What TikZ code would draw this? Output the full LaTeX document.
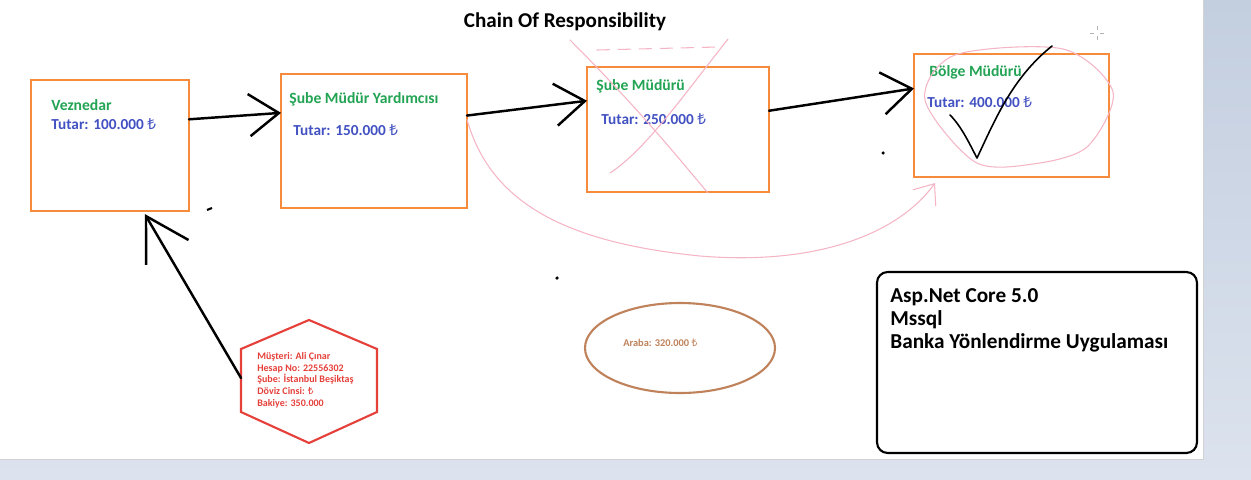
\documentclass[tikz,border=0pt]{standalone}
\usepackage{fontspec}
\setmainfont{Carlito}
\newfontfamily\lirafont{Noto Sans}
\usetikzlibrary{arrows.meta,calc}
\definecolor{boxorange}{HTML}{F58B3B}
\definecolor{ttlgreen}{HTML}{23A454}
\definecolor{amtblue}{HTML}{4352C2}
\definecolor{hexred}{HTML}{E5403A}
\definecolor{carbrown}{HTML}{C0825A}
\definecolor{penpink}{HTML}{F5B5C5}
\definecolor{frametop}{HTML}{C3CEDF}
\definecolor{framebot}{HTML}{DCE3EE}
\newcommand{\TL}{{\lirafont\bfseries ₺}}

\begin{document}
\begin{tikzpicture}[x=0.02cm, y=-0.02cm,
 box/.style={draw=boxorange, line width=1.4pt, inner sep=0, outer sep=0},
 ttl/.style={font=\fontsize{8.9}{10}\selectfont\bfseries, text=ttlgreen, anchor=base west, inner sep=0},
 amt/.style={font=\fontsize{8.7}{10}\selectfont\bfseries, text=amtblue, anchor=base west, inner sep=0},
 info/.style={font=\fontsize{12.1}{14}\selectfont\bfseries, anchor=base west, inner sep=0},
 hand/.style={line width=1.4pt, line cap=round, -{Straight Barb[length=17pt,width=24pt]}},
 pen/.style={penpink, line width=0.6pt, line cap=round},
]
 \useasboundingbox (0,0) rectangle (1251,480);
 % window frame and white canvas
 \fill[top color=frametop, bottom color=framebot] (0,0) rectangle (1251,480);
 \fill[white] (0,0) rectangle (1203,459);
 \draw[gray!35, line width=0.3pt] (1203,0) -- (1203,459) -- (0,459);
 \node[font=\fontsize{12}{14}\selectfont\bfseries, anchor=base, inner sep=0] (title) at (565,28) {Chain Of Responsibility};
 % handlers
 \node[box, minimum width=3.16cm, minimum height=2.62cm] (b1) at (110,145.5) {};
 \node[box, minimum width=3.72cm, minimum height=2.68cm] (b2) at (374,141) {};
 \node[box, minimum width=3.64cm, minimum height=2.50cm] (b3) at (678,129.5) {};
 \node[box, minimum width=3.90cm, minimum height=2.46cm] (b4) at (1011.5,115.5) {};
 \node[ttl] (b1t) at (51,110) {Veznedar};
 \node[amt] (b1a) at (51,129) {Tutar: 100.000 \TL};
 \node[ttl] (b2t) at (289,103) {Şube Müdür Yardımcısı};
 \node[amt] (b2a) at (293,135) {Tutar: 150.000 \TL};
 \node[ttl] (b3t) at (596,90) {Şube Müdürü};
 \node[amt] (b3a) at (601,124) {Tutar: 250.000 \TL};
 \node[ttl] (b4t) at (929,76) {Bölge Müdürü};
 \node[amt] (b4a) at (927,107) {Tutar: 400.000 \TL};
 % chain arrows
 \draw[hand] ($(b1.north east)!0.30!(b1.south east)$) -- ($(b2.north west)!0.29!(b2.south west)$);
 \draw[hand] ($(b2.north east)!0.31!(b2.south east)$) -- ($(b3.north west)!0.27!(b3.south west)$);
 \draw[hand] ($(b3.north east)!0.35!(b3.south east)$) -- ($(b4.north west)!0.28!(b4.south west)$);
 % customer
 \draw[hexred, line width=1.2pt, line join=miter] (309,320) -- (377,349) -- (377,412) -- (309,443) -- (241,412) -- (241,349) -- cycle;
 \coordinate (hexw) at (241,378);
 \node[font=\fontsize{5.7}{6.7}\selectfont\bfseries, text=hexred, align=left, anchor=north west, inner sep=0] (cust) at (257,352)
   {Müşteri: Ali Çınar\\Hesap No: 22556302\\Şube: İstanbul Beşiktaş\\Döviz Cinsi: \TL\\Bakiye: 350.000};
 \draw[hand, -{Straight Barb[length=24pt,width=28pt]}] (hexw) -- ($(b1.south west)!0.72!(b1.south east)+(0,3)$);
 % car
 \draw[carbrown, line width=1.2pt] (680,348) ellipse [x radius=95, y radius=45];
 \node[font=\fontsize{5.9}{7}\selectfont\bfseries, text=carbrown, anchor=base west, inner sep=0] (car) at (623,346) {Araba: 320.000 \TL};
 % project info
 \node[draw, line width=1.2pt, rounded corners=6pt, minimum width=6.4cm, minimum height=3.62cm] (infobox) at (1037,362.5) {};
 \node[info] (i1) at (890,302) {Asp.Net Core 5.0};
 \node[info] (i2) at (890,325) {Mssql};
 \node[info] (i3) at (890,348) {Banka Yönlendirme Uygulaması};
 % pink pen marks
 \draw[pen] (570,40) .. controls (640,110) and (680,160) .. (708,193);
 \draw[pen] (728,39) .. controls (680,100) and (645,150) .. (610,173);
 \draw[pen, dash pattern=on 7pt off 5pt] (597,50) -- (718,47);
 \coordinate (skip) at (935,183);
 \draw[pen, -{Straight Barb[length=10pt,width=16pt]}] ($(b2.north east)!0.34!(b2.south east)$) .. controls (490,200) and (560,242) .. (700,256) .. controls (820,266) and (900,232) .. (skip);
 \draw[pen] plot[smooth cycle] coordinates {(955,55) (1063,49) (1113,92) (1087,147) (1033,164) (975,162) (925,100)};
 % check mark
 \draw[line width=0.9pt, line cap=round, line join=round] (950,115) .. controls (962,127) and (970,145) .. (977,158) .. controls (995,120) and (1012,78) .. (1052,46);
 % stray dots
 \draw[line width=1.2pt] (207,210) -- (212,208);
 \fill (557,278) circle (1pt);
 \fill (883,153) circle (1pt);
 \draw[gray!60, line width=0.4pt] (1090,33) -- (1094,33) (1100,33) -- (1104,33) (1097,26) -- (1097,30) (1097,36) -- (1097,40);
\end{tikzpicture}
\end{document}
